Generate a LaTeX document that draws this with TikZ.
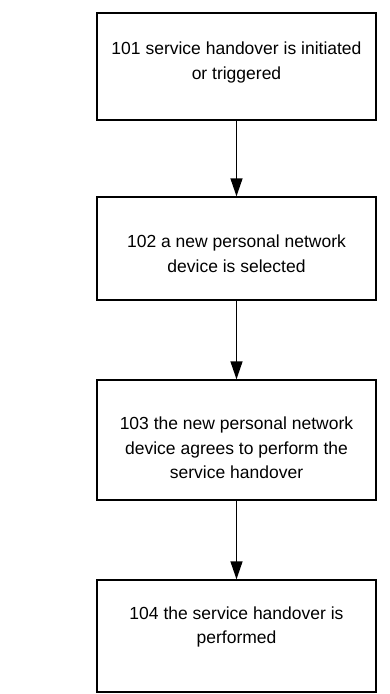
\documentclass[tikz,border=0pt]{standalone}
\usepackage{fontspec}
\setmainfont{Liberation Sans}
\usetikzlibrary{arrows.meta}
\begin{document}
\begin{tikzpicture}[x=1pt,y=-1pt,
  stepbox/.style={draw, line width=1.4pt, minimum width=279pt, inner sep=0pt},
  steptext/.style={align=center, inner sep=0pt, font=\fontsize{17.5}{24.5}\selectfont},
  flow/.style={-{Triangle[length=18pt,width=12pt]}, line width=1.4pt}]
\useasboundingbox (0,0) rectangle (390,694);
% process boxes
\node[stepbox, minimum height=107pt] (s1) at (236.5,66.5) {};
\node[stepbox, minimum height=103pt] (s2) at (236.5,248.5) {};
\node[stepbox, minimum height=120pt] (s3) at (236.5,440) {};
\node[stepbox, minimum height=112pt] (s4) at (236.5,636) {};
% box captions
\node[steptext] (t1) at (236.5,62.5)
  {101 service handover is initiated\\or triggered};
\node[steptext] (t2) at (236.5,253.5)
  {102 a new personal network\\device is selected};
\node[steptext] (t3) at (236.5,448)
  {103 the new personal network\\device agrees to perform the\\service handover};
\node[steptext] (t4) at (236.5,627)
  {104 the service handover is\\performed};
% flow arrows
\draw[flow] (s1) -- (s2);
\draw[flow] (s2) -- (s3);
\draw[flow] (s3) -- (s4);
\end{tikzpicture}
\end{document}
